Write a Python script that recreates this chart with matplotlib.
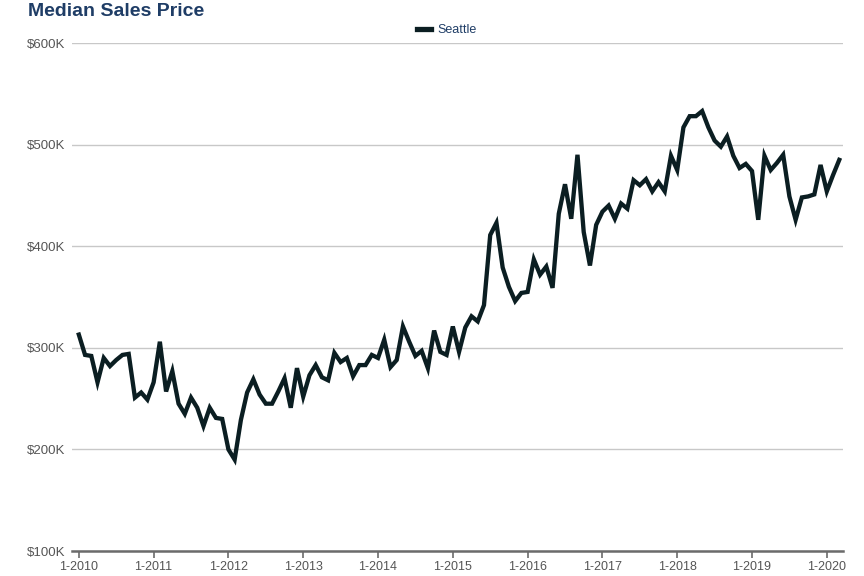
import matplotlib
matplotlib.use("Agg")
import matplotlib.pyplot as plt
from matplotlib.ticker import FuncFormatter

plt.rcParams['font.family'] = ['Liberation Sans', 'DejaVu Sans']

# Monthly median sales price (thousands USD), Jan 2010 - Mar 2020
prices = [
    313, 293, 292, 266, 290, 282, 288, 293, 294, 251, 256, 249,   # 2010
    266, 306, 257, 277, 245, 235, 251, 241, 223, 241, 231, 230,   # 2011
    200, 190, 229, 256, 269, 254, 245, 245, 257, 270, 241, 280,   # 2012
    252, 273, 283, 271, 268, 295, 286, 290, 272, 283, 283, 293,   # 2013
    290, 308, 281, 288, 321, 306, 292, 297, 280, 317, 296, 293,   # 2014
    321, 296, 320, 331, 326, 342, 411, 423, 379, 360, 346, 354,   # 2015
    355, 387, 372, 380, 359, 432, 461, 427, 490, 414, 381, 421,   # 2016
    434, 440, 427, 442, 437, 465, 460, 466, 454, 463, 454, 489,   # 2017
    475, 517, 528, 528, 533, 517, 504, 498, 508, 489, 477, 481,   # 2018
    474, 426, 489, 475, 482, 490, 449, 426, 448, 449, 451, 480,   # 2019
    454, 470, 485,                                                # 2020
]
months = list(range(len(prices)))
tick_pos = [0, 12, 24, 36, 48, 60, 72, 84, 96, 108, 120]
tick_labels = ["1-2010", "1-2011", "1-2012", "1-2013", "1-2014", "1-2015",
               "1-2016", "1-2017", "1-2018", "1-2019", "1-2020"]
y_ticks = [100, 200, 300, 400, 500, 600]

fig = plt.figure(figsize=(8.64, 5.76), dpi=100)
ax = fig.add_axes([0.0833, 0.0434, 0.8924, 0.8819])

line, = ax.plot(months, prices, color="#0b1e22", lw=3.1, solid_joinstyle="miter",
                label="Seattle")

ax.set_xlim(-1.1, 122.6)
ax.set_ylim(100, 600)
ax.set_yticks(y_ticks)
ax.yaxis.set_major_formatter(FuncFormatter(lambda v, p: f"${int(v)}K"))
ax.set_xticks(tick_pos)
ax.set_xticklabels(tick_labels)

ax.grid(axis="y", color="#c8c8c8", lw=1.0)
ax.set_axisbelow(True)
for s in ["top", "right", "left"]:
    ax.spines[s].set_visible(False)
ax.spines["bottom"].set_color("#6b6b6b")
ax.spines["bottom"].set_linewidth(1.8)
ax.spines["bottom"].set_zorder(5)

ax.tick_params(axis="y", length=0, labelsize=9.5, labelcolor="#555555", pad=5)
ax.tick_params(axis="x", length=5, width=1.2, color="#6b6b6b", labelsize=9,
               labelcolor="#555555", pad=2)

fig.text(0.032, 0.995, "Median Sales Price", fontsize=14, fontweight="bold",
         color="#1f3d66", ha="left", va="top")

leg = fig.legend(handles=[line], loc="center", bbox_to_anchor=(0.517, 0.948),
                 frameon=False, fontsize=9, handlelength=1.1, handletextpad=0.5)
leg.get_lines()[0].set_linewidth(3.8)
for t in leg.get_texts():
    t.set_color("#1f3d66")

fig.savefig("out.png", dpi=100)
